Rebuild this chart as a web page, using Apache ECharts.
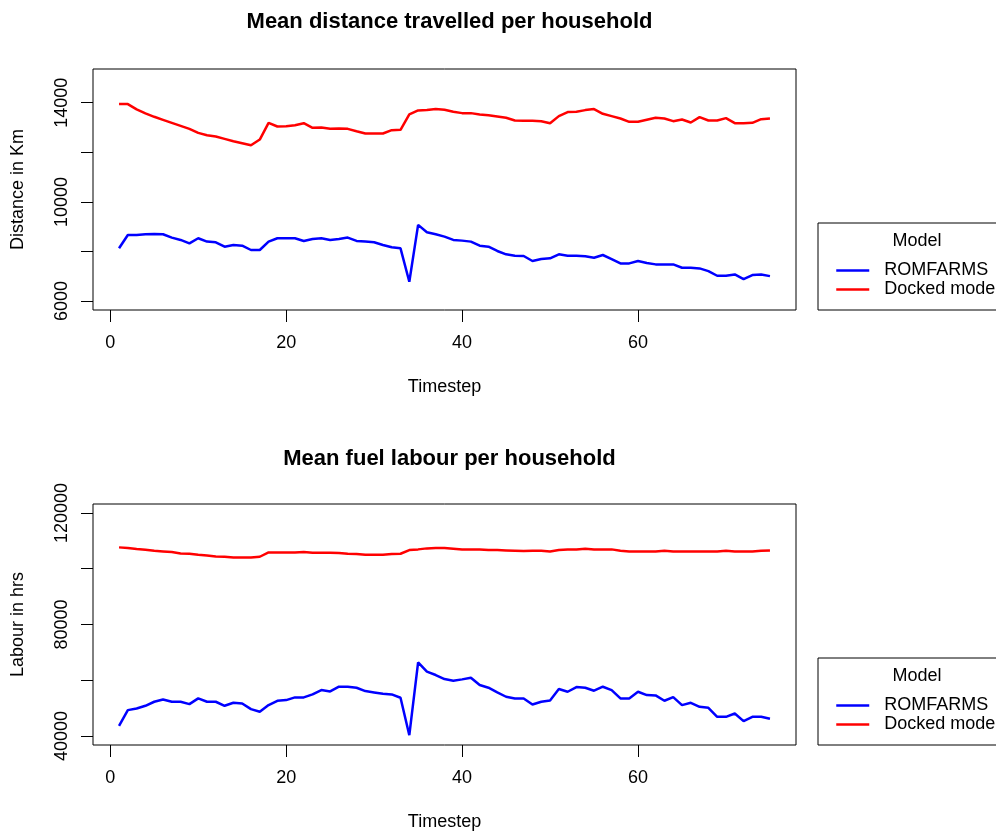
<!DOCTYPE html>
<html>
<head>
<meta charset="utf-8">
<title>Mean distance and fuel labour per household</title>
<script src="https://cdn.jsdelivr.net/npm/echarts@6/dist/echarts.min.js"></script>
<style>
  html, body { margin: 0; padding: 0; background: #ffffff; }
  #chart { width: 996px; height: 833px; }
</style>
</head>
<body>
<div id="chart"></div>
<script>
// Timesteps 1..75 of the simulation run
const timesteps = Array.from({ length: 75 }, (_, i) => i + 1);

// Mean distance travelled per household (Km)
const distRomfarms = [
  8128, 8667, 8667, 8694, 8708, 8694, 8560, 8465, 8330, 8533,
  8398, 8371, 8195, 8263, 8236, 8060, 8060, 8398, 8533, 8533,
  8533, 8425, 8506, 8533, 8465, 8506, 8560, 8425, 8398, 8371,
  8263, 8168, 8128, 6778, 9072, 8776, 8694, 8600, 8465, 8438,
  8398, 8236, 8195, 8020, 7885, 7831, 7817, 7615, 7696, 7723,
  7885, 7831, 7831, 7804, 7750, 7858, 7696, 7520, 7520, 7615,
  7534, 7480, 7480, 7480, 7345, 7345, 7318, 7210, 7021, 7021,
  7075, 6886, 7048, 7075, 7007
];
const distDocked = [
  13945, 13945, 13729, 13567, 13432, 13310, 13189, 13068, 12946, 12784,
  12689, 12635, 12541, 12446, 12365, 12284, 12514, 13189, 13040, 13054,
  13094, 13175, 12987, 13000, 12946, 12959, 12946, 12851, 12757, 12757,
  12757, 12892, 12906, 13526, 13688, 13702, 13742, 13715, 13634, 13580,
  13580, 13526, 13499, 13445, 13391, 13283, 13270, 13270, 13256, 13170,
  13459, 13621, 13634, 13702, 13742, 13553, 13459, 13364, 13229, 13229,
  13310, 13391, 13364, 13256, 13324, 13202, 13418, 13283, 13283, 13378,
  13175, 13175, 13189, 13337, 13364
];

// Mean fuel labour per household (hrs)
const labourRomfarms = [
  43675, 49306, 49905, 50863, 52301, 53140, 52301, 52301, 51462, 53499,
  52301, 52301, 50863, 51941, 51702, 49666, 48707, 51103, 52660, 52900,
  53858, 53858, 54937, 56494, 56015, 57692, 57692, 57333, 56135, 55655,
  55176, 54937, 53739, 40321, 66437, 63083, 61885, 60447, 59848, 60328,
  60927, 58291, 57333, 55655, 54098, 53499, 53499, 51343, 52301, 52780,
  56853, 55895, 57572, 57333, 56255, 57692, 56494, 53499, 53499, 55895,
  54697, 54577, 52660, 53978, 51103, 51941, 50504, 50145, 46910, 46910,
  48108, 45353, 46910, 46910, 46191
];
const labourDocked = [
  107650, 107410, 107050, 106810, 106450, 106210, 105970, 105490, 105370, 105010,
  104770, 104410, 104290, 104050, 104050, 104050, 104290, 105850, 105850, 105850,
  105850, 105970, 105730, 105730, 105730, 105610, 105370, 105250, 105010, 105010,
  105010, 105250, 105370, 106690, 106930, 107290, 107410, 107410, 107170, 106930,
  106930, 106930, 106690, 106690, 106570, 106450, 106330, 106450, 106450, 106210,
  106690, 106930, 106930, 107170, 106930, 106930, 106930, 106450, 106210, 106210,
  106210, 106210, 106450, 106210, 106210, 106210, 106210, 106210, 106210, 106450,
  106210, 106210, 106210, 106450, 106570
];

// Tick positions and labels
const xTicks = [0, 20, 40, 60];
const distTicks = [6000, 8000, 10000, 12000, 14000];
const distLabels = [6000, 10000, 14000];
const labourTicks = [40000, 60000, 80000, 100000, 120000];
const labourLabels = [40000, 80000, 120000];

const seriesNames = ['ROMFARMS', 'Docked model'];
const seriesColors = ['#0000ff', '#ff0000'];

const FONT = "'Liberation Sans', Arial, Helvetica, sans-serif";
const INK = '#000000';

function pairs(values) {
  return values.map((v, i) => [timesteps[i], v]);
}

const plainNumber = (v) => String(v);

function xAxisFor(gridIndex) {
  return {
    type: 'value', gridIndex,
    min: -1.96, max: 77.96,
    name: 'Timestep', nameLocation: 'middle', nameGap: 68,
    nameTextStyle: { fontFamily: FONT, fontSize: 18, color: INK },
    axisLine: { show: false, onZero: false },
    axisTick: { show: true, inside: false, length: 12, customValues: xTicks,
                lineStyle: { color: INK, width: 1 } },
    axisLabel: { customValues: xTicks, margin: 24, formatter: plainNumber,
                 fontFamily: FONT, fontSize: 18, color: INK },
    splitLine: { show: false }
  };
}

function yAxisFor(gridIndex, name, min, max, ticks, labels) {
  return {
    type: 'value', gridIndex, min, max,
    name, nameLocation: 'middle', nameRotate: 90, nameGap: 66,
    nameTextStyle: { fontFamily: FONT, fontSize: 18, color: INK },
    axisLine: { show: false, onZero: false },
    axisTick: { show: true, inside: false, length: 12, customValues: ticks,
                lineStyle: { color: INK, width: 1 } },
    axisLabel: { customValues: labels, rotate: 90, margin: 22, formatter: plainNumber,
                 fontFamily: FONT, fontSize: 18, color: INK },
    splitLine: { show: false }
  };
}

function legendAt(top) {
  return {
    orient: 'vertical',
    left: 818, top,
    padding: [38, 40, 11, 17],
    itemGap: 0,
    itemWidth: 33, itemHeight: 14,
    borderColor: INK, borderWidth: 1,
    backgroundColor: '#ffffff',
    data: seriesNames,
    // line-only keys: the point marker is hidden
    itemStyle: { opacity: 0 },
    lineStyle: { width: 2.5 },
    textStyle: { fontFamily: FONT, fontSize: 18, color: INK, lineHeight: 19,
                 padding: [0, 0, 0, 10] }
  };
}

function line(name, color, gridIndex, values) {
  return {
    type: 'line', name,
    xAxisIndex: gridIndex, yAxisIndex: gridIndex,
    data: pairs(values),
    symbol: 'none',
    lineStyle: { color, width: 2.5 },
    itemStyle: { color },
    silent: true
  };
}

const chart = echarts.init(document.getElementById('chart'), null, { renderer: 'canvas' });

chart.setOption({
  animation: false,
  backgroundColor: '#ffffff',
  title: [
    { text: 'Mean distance travelled per household', left: 444.5, top: 6, textAlign: 'center',
      textStyle: { fontFamily: FONT, fontSize: 22, fontWeight: 'bold', color: INK } },
    { text: 'Mean fuel labour per household', left: 444.5, top: 443, textAlign: 'center',
      textStyle: { fontFamily: FONT, fontSize: 22, fontWeight: 'bold', color: INK } },
    { text: 'Model', left: 912, top: 227, textAlign: 'center', z: 10,
      textStyle: { fontFamily: FONT, fontSize: 18, fontWeight: 'normal', color: INK } },
    { text: 'Model', left: 912, top: 662, textAlign: 'center', z: 10,
      textStyle: { fontFamily: FONT, fontSize: 18, fontWeight: 'normal', color: INK } }
  ],
  legend: [legendAt(223), legendAt(658)],
  grid: [
    { left: 93, top: 69, width: 703, height: 241, show: true,
      borderColor: INK, borderWidth: 1, backgroundColor: 'transparent', containLabel: false },
    { left: 93, top: 504, width: 703, height: 241, show: true,
      borderColor: INK, borderWidth: 1, backgroundColor: 'transparent', containLabel: false }
  ],
  xAxis: [xAxisFor(0), xAxisFor(1)],
  yAxis: [
    yAxisFor(0, 'Distance in Km', 5640, 15360, distTicks, distLabels),
    yAxisFor(1, 'Labour in hrs', 36800, 123200, labourTicks, labourLabels)
  ],
  series: [
    line(seriesNames[0], seriesColors[0], 0, distRomfarms),
    line(seriesNames[1], seriesColors[1], 0, distDocked),
    line(seriesNames[0], seriesColors[0], 1, labourRomfarms),
    line(seriesNames[1], seriesColors[1], 1, labourDocked)
  ]
});
</script>
</body>
</html>
